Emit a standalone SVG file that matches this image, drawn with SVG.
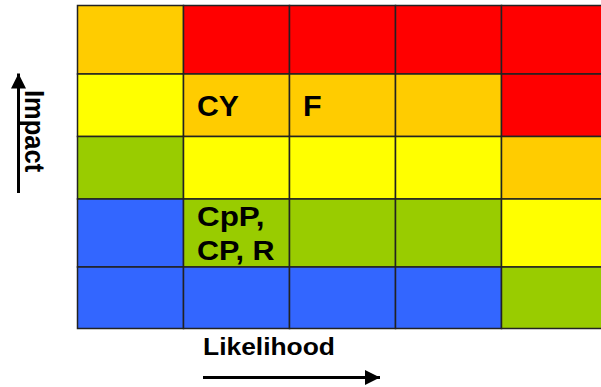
<svg xmlns="http://www.w3.org/2000/svg" width="601" height="387" viewBox="0 0 601 387">
<style>
.c{stroke:#222;stroke-width:1.5}
.o{fill:#FFCC00}.r{fill:#FF0000}.y{fill:#FFFF00}.g{fill:#99CC00}.b{fill:#3366FF}
.t{font-family:"Liberation Sans",Arial,sans-serif;font-weight:bold;fill:#000}
.ax{stroke:#000;stroke-width:3;fill:none}
</style>
<defs>
<marker id="ah" markerWidth="5" markerHeight="5" refX="5" refY="2.5" orient="auto" markerUnits="strokeWidth">
<path d="M0,0 L5,2.5 L0,5 Z" fill="#000"/>
</marker>
</defs>
<g id="grid">
<g id="r0">
<rect class="c o" x="77.5" y="5.5" width="106" height="68.5"/>
<rect class="c r" x="183.5" y="5.5" width="106" height="68.5"/>
<rect class="c r" x="289.5" y="5.5" width="106" height="68.5"/>
<rect class="c r" x="395.5" y="5.5" width="106" height="68.5"/>
<rect class="c r" x="501.5" y="5.5" width="106" height="68.5"/>
</g>
<g id="r1">
<rect class="c y" x="77.5" y="74" width="106" height="62.5"/>
<rect class="c o" x="183.5" y="74" width="106" height="62.5"/>
<rect class="c o" x="289.5" y="74" width="106" height="62.5"/>
<rect class="c o" x="395.5" y="74" width="106" height="62.5"/>
<rect class="c r" x="501.5" y="74" width="106" height="62.5"/>
</g>
<g id="r2">
<rect class="c g" x="77.5" y="136.5" width="106" height="62.5"/>
<rect class="c y" x="183.5" y="136.5" width="106" height="62.5"/>
<rect class="c y" x="289.5" y="136.5" width="106" height="62.5"/>
<rect class="c y" x="395.5" y="136.5" width="106" height="62.5"/>
<rect class="c o" x="501.5" y="136.5" width="106" height="62.5"/>
</g>
<g id="r3">
<rect class="c b" x="77.5" y="199" width="106" height="68"/>
<rect class="c g" x="183.5" y="199" width="106" height="68"/>
<rect class="c g" x="289.5" y="199" width="106" height="68"/>
<rect class="c g" x="395.5" y="199" width="106" height="68"/>
<rect class="c y" x="501.5" y="199" width="106" height="68"/>
</g>
<g id="r4">
<rect class="c b" x="77.5" y="267" width="106" height="61.5"/>
<rect class="c b" x="183.5" y="267" width="106" height="61.5"/>
<rect class="c b" x="289.5" y="267" width="106" height="61.5"/>
<rect class="c b" x="395.5" y="267" width="106" height="61.5"/>
<rect class="c g" x="501.5" y="267" width="106" height="61.5"/>
</g>
</g>
<g id="labels">
<text class="t" x="197" y="116" font-size="29" textLength="42" lengthAdjust="spacingAndGlyphs">CY</text>
<text class="t" x="303" y="116" font-size="29" textLength="18.6" lengthAdjust="spacingAndGlyphs">F</text>
<text class="t" x="197" y="226" font-size="27" textLength="67.5" lengthAdjust="spacingAndGlyphs">CpP,</text>
<text class="t" x="197" y="259.5" font-size="27" textLength="77.5" lengthAdjust="spacingAndGlyphs">CP, R</text>
<text class="t" x="203" y="354.5" font-size="24.5" textLength="132" lengthAdjust="spacingAndGlyphs">Likelihood</text>
<text class="t" font-size="25.5" transform="translate(25,90) scale(1.08,1) rotate(90)">Impact</text>
</g>
<g id="connectors">
<line class="ax" x1="18.5" y1="193" x2="18.5" y2="73.5" marker-end="url(#ah)"/>
<line class="ax" x1="203" y1="377.5" x2="380" y2="377.5" marker-end="url(#ah)"/>
</g>
</svg>
